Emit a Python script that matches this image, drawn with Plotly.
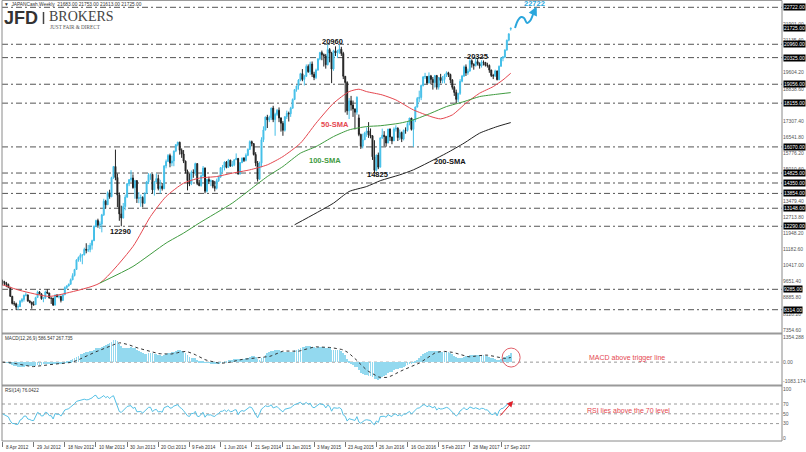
import pandas as pd
import plotly.graph_objects as go

W, H = 806, 452

# ---------------- data (weekly JAPANCash) ----------------
closes = [
    9637, 9561, 9520, 9380, 8953, 8611, 8593, 8440, 8459, 8721,
    8798, 9006, 9020, 8724, 8669, 8566, 8555, 8891, 9162, 9070,
    8839, 8871, 9159, 9110, 8870, 8863, 8534, 9002, 8933, 8946,
    8757, 9024, 9366, 9446, 9527, 9737, 9940, 10230, 10688, 10801,
    10913, 10926, 11191, 11153, 11173, 11385, 11606, 12283, 12560, 12338,
    12397, 12833, 13485, 13316, 13884, 13694, 14607, 15138, 14612, 13774,
    12877, 12686, 13230, 13677, 14309, 14506, 14589, 14129, 14466, 13615,
    13650, 13660, 13389, 13860, 14404, 14742, 14760, 14024, 14404, 14561,
    14088, 14201, 14086, 15165, 15381, 15661, 15299, 15403, 15870, 16178,
    16291, 15912, 15734, 15391, 14914, 14462, 14313, 14865, 14841, 15274,
    14327, 14224, 14696, 15063, 13960, 14516, 14429, 14458, 14199, 14097,
    14462, 14632, 15077, 15097, 15349, 15095, 15437, 15164, 15215, 15457,
    15523, 14778, 15318, 15539, 15425, 15669, 15948, 16321, 16229, 15708,
    15300, 14532, 15291, 16413, 16880, 17490, 17357, 17460, 17920, 17371,
    17621, 17818, 17450, 17197, 16864, 17511, 17674, 17648, 17913, 18332,
    18797, 18971, 19254, 19560, 19286, 19435, 19907, 19653, 20020, 19531,
    19379, 19732, 20264, 20563, 20460, 20407, 19990, 20706, 20539, 19780,
    20650, 20544, 20585, 20724, 20520, 19435, 19136, 17792, 18264, 18070,
    17880, 17725, 18438, 16666, 16106, 16412, 16736, 16834, 16642, 16601,
    15599, 14952, 15682, 15106, 16497, 16627, 16569, 16254, 16919, 16545,
    16360, 16925, 16965, 16519, 16754, 16449, 16860, 16856, 17184, 17446,
    16905, 17374, 17968, 18381, 18426, 18996, 19401, 19427, 19114, 19454,
    19287, 19137, 19467, 18918, 19378, 19234, 19283, 19469, 19604, 19521,
    19262, 18909, 18664, 18335, 18620, 19196, 19445, 19883, 19590, 19686,
    20177, 20013, 19943, 20132, 20033, 19929, 20118, 20099, 19960, 19952,
    19730, 19470, 19453, 19691, 19275, 19909, 20296, 20356, 20690, 21155,
    21457, 21725,
]
highs = [
    9745, 9690, 9640, 9560, 9400, 8970, 8720, 8650, 8570, 8780,
    8870, 9030, 9140, 9030, 8780, 8700, 8720, 8930, 9220, 9200,
    9090, 8900, 9220, 9290, 9120, 8880, 8880, 9050, 9060, 9050,
    8980, 9060, 9420, 9480, 9560, 9800, 10050, 10260, 10720, 10850,
    11000, 10950, 11270, 11480, 11400, 11500, 11650, 12330, 12600, 12650,
    12520, 12880, 13600, 13550, 13950, 14030, 14650, 15160, 15942, 14800,
    13900, 13270, 13400, 13800, 14350, 14540, 14960, 14760, 14500, 14480,
    13920, 13800, 13720, 13900, 14450, 14820, 14800, 14780, 14450, 14800,
    14750, 14500, 14350, 15200, 15470, 15730, 15750, 15650, 15900, 16200,
    16320, 16320, 16000, 15920, 15420, 14990, 14800, 14950, 15000, 15320,
    15300, 14500, 14760, 15160, 15090, 14550, 14650, 14520, 14480, 14450,
    14560, 14690, 15110, 15210, 15380, 15400, 15500, 15460, 15400, 15480,
    15760, 15540, 15350, 15560, 15580, 15760, 16000, 16380, 16370, 16240,
    15820, 15400, 15370, 16530, 17050, 17520, 17600, 17560, 17940, 18030,
    17700, 17880, 17950, 17480, 17300, 17530, 17800, 17750, 17980, 18380,
    18830, 18990, 19300, 19600, 19780, 19500, 20000, 20000, 20130, 20140,
    19650, 19800, 20300, 20600, 20660, 20520, 20500, 20960, 20780, 20600,
    20700, 20860, 20700, 20946, 20840, 20600, 19440, 19200, 18400, 18500,
    18280, 17900, 18480, 17613, 16700, 16700, 16790, 17000, 17250, 16950,
    16620, 16389, 15700, 15800, 16530, 16940, 16820, 16600, 16930, 16950,
    16550, 17000, 17100, 17000, 16900, 16800, 16900, 17000, 17250, 17450,
    17450, 17400, 18000, 18450, 18750, 19040, 19450, 19600, 19450, 19620,
    19500, 19400, 19500, 19500, 19400, 19550, 19450, 19550, 19670, 19650,
    19560, 19300, 18980, 18800, 18650, 19300, 19500, 19950, 20000, 19800,
    20250, 20240, 20050, 20325, 20250, 20100, 20200, 20190, 20100, 20080,
    20000, 19750, 19550, 19750, 19700, 19950, 20350, 20400, 20720, 21180,
    21480, 21753,
]
lows = [
    9470, 9480, 9390, 9340, 8920, 8560, 8500, 8300, 8300, 8450,
    8650, 8700, 8950, 8700, 8620, 8360, 8500, 8540, 8880, 9050,
    8790, 8670, 8820, 9060, 8840, 8590, 8490, 8520, 8900, 8850,
    8660, 8740, 9010, 9300, 9420, 9500, 9720, 9900, 10220, 10600,
    10600, 10480, 10900, 11000, 11060, 11050, 11180, 11580, 12240, 12220,
    12160, 12000, 12780, 13130, 13300, 13600, 13680, 14550, 14480, 13200,
    12550, 12290, 12660, 13050, 13650, 14200, 14400, 14080, 13600, 13400,
    13390, 13220, 13190, 13350, 13850, 14300, 14500, 13850, 13750, 14400,
    14000, 13850, 13990, 14050, 15050, 15350, 15100, 15150, 15150, 15820,
    16100, 15700, 15550, 15300, 14800, 14000, 14200, 14250, 14600, 14700,
    14250, 14200, 14180, 14650, 13860, 13900, 14300, 14200, 14100, 13950,
    14040, 14400, 14600, 14850, 14950, 15050, 15090, 15120, 15120, 15150,
    15450, 14750, 14760, 15300, 15350, 15380, 15630, 15940, 16100, 15660,
    15150, 14420, 14500, 15100, 16300, 16850, 16970, 17250, 17350, 17250,
    16600, 17550, 17250, 16800, 16600, 16800, 17400, 17280, 17500, 17900,
    18300, 18700, 18800, 19200, 19200, 19000, 19400, 19600, 19500, 19400,
    19250, 19300, 19700, 20200, 20200, 19900, 19800, 19950, 20100, 19110,
    19700, 20400, 20300, 20500, 20400, 19300, 17714, 17600, 17400, 17800,
    17500, 16901, 17600, 16580, 15975, 16000, 16400, 16550, 16500, 16480,
    15450, 14825, 14900, 15010, 15100, 16450, 16100, 16080, 16250, 16350,
    16200, 16350, 16800, 16350, 16400, 16300, 16380, 16700, 16800, 17100,
    16850, 16070, 17250, 17950, 18200, 18300, 18950, 19300, 19050, 19100,
    19050, 18800, 18900, 18800, 18800, 19100, 19100, 19100, 19400, 19400,
    19100, 18800, 18500, 18160, 18200, 18550, 19150, 19400, 19450, 19500,
    19650, 19850, 19750, 19900, 19950, 19800, 19850, 19950, 19900, 19850,
    19600, 19400, 19300, 19400, 19240, 19250, 19900, 20150, 20300, 20650,
    21100, 21613,
]
first_open = 9688
session_opens = {183: 17450, 261: 21683}   # bars whose open differs from prior close

# moving averages (bar index, value)
sma50_idx = [0, 9, 24, 33, 50, 67, 76, 84, 93, 101, 110, 118, 127, 136, 144, 153, 161, 170,
             178, 183, 187, 195, 202, 211, 220, 225, 231, 238, 245, 252, 257, 261]
sma50_val = [9503, 9232, 8947, 9108, 9584, 11327, 12755, 13707, 14344, 14582, 14659, 14820,
             14977, 15216, 15610, 16248, 17200, 18152, 18705, 18819, 18705, 18547, 18309,
             17834, 17515, 17405, 17595, 18152, 18628, 18943, 19262, 19580]
sma100_idx = [50, 67, 84, 93, 101, 118, 127, 136, 144, 153, 161, 170, 178, 187, 194, 204,
              211, 220, 228, 237, 245, 254, 261]
sma100_val = [9584, 10374, 11488, 11964, 12440, 13392, 14025, 14659, 15135, 15772, 16087,
              16563, 16882, 17039, 17080, 17200, 17357, 17677, 17991, 18229, 18467, 18581, 18657]
sma200_idx = [150, 161, 170, 178, 187, 194, 204, 211, 228, 237, 245, 254, 261]
sma200_val = [12360, 12916, 13392, 13945, 14183, 14460, 14740, 14977, 15772, 16248, 16724,
              17039, 17229]

# support / resistance levels (black tags) and current price tag
levels = [22722, 20960, 20325, 19056, 18155, 16070, 14825, 14350, 13854, 13148, 12290, 9285, 8314]
current_price = 21725

# axis tick labels (those hidden behind the tags in the reference are left out)
price_ticks = [7354.60, 8120.20, 8885.80, 9651.40, 10417.00, 11182.60, 11948.20, 12713.80,
               13479.40, 15010.60, 15776.20, 16541.80, 17307.40,
               18838.60, 19604.20, 21135.40, 21901.00]
macd_ticks = [1354.288, 0.0, -1083.174]
macd_tick_text = ["1354.288", "0.00", "-1083.174"]
rsi_ticks = [100, 70, 50, 30, 0]
date_idx = [0, 16, 32, 48, 64, 80, 96, 112, 128, 144, 160, 176, 192, 208, 224, 240, 256]
date_text = ["8 Apr 2012", "29 Jul 2012", "18 Nov 2012", "10 Mar 2013", "30 Jun 2013",
             "20 Oct 2013", "9 Feb 2014", "1 Jun 2014", "21 Sep 2014", "11 Jan 2015",
             "3 May 2015", "23 Aug 2015", "26 Jun 2016", "16 Oct 2016", "5 Feb 2017",
             "28 May 2017", "17 Sep 2017"]

# projection path (bar index, price) for the blue wavy arrow
proj_idx = [263.2, 264.8, 266.3, 267.8, 269.4, 270.9, 272.5]
proj_val = [21737, 22117, 22260, 22213, 21975, 22070, 22403]

# ---------------- derived series ----------------
n = len(closes)
idx = list(range(n))
opens = [first_open] + closes[:-1]
for k, v in session_opens.items():
    opens[k] = v

c = pd.Series(closes, dtype=float)
macd = c.ewm(span=12, adjust=False).mean() - c.ewm(span=26, adjust=False).mean()
signal = macd.rolling(9, min_periods=1).mean()

# RSI(14), Wilder smoothing, started from a neutral average move
diffs = [closes[i] - closes[i - 1] for i in range(1, n)]
seed = sum(abs(v) for v in diffs[:14]) / 14 / 2
ag, al = seed, seed
rsi = [50.0]
for dv in diffs:
    ag = (ag * 13 + max(dv, 0)) / 14
    al = (al * 13 + max(-dv, 0)) / 14
    rsi.append(100 - 100 / (1 + ag / al) if al > 0 else 100)

# ---------------- geometry helpers ----------------
def px(x):
    return x / W

def py(y):
    return 1 - y / H

XL, XR = px(2), px(782)
XRANGE = [-0.26, 400.3]
FONT = "Liberation Sans, Arial, sans-serif"
RED = "#e5474f"
GREEN = "#3f9b3f"
BLUE = "#2aa6dc"

fig = go.Figure()

fig.add_trace(go.Candlestick(
    x=idx, open=opens, high=highs, low=lows, close=closes,
    increasing=dict(line=dict(color="#45bfe8", width=1), fillcolor="#45bfe8"),
    decreasing=dict(line=dict(color="#222222", width=1), fillcolor="#222222"),
    whiskerwidth=0, xaxis="x", yaxis="y", hoverinfo="skip"))

for xi, yv, col in [(sma50_idx, sma50_val, RED), (sma100_idx, sma100_val, GREEN),
                    (sma200_idx, sma200_val, "#222222")]:
    fig.add_trace(go.Scatter(x=xi, y=yv, mode="lines",
                             line=dict(color=col, width=1, shape="spline", smoothing=0.6),
                             xaxis="x", yaxis="y", hoverinfo="skip"))

fig.add_trace(go.Scatter(x=proj_idx, y=proj_val, mode="lines",
                         line=dict(color=BLUE, width=2, shape="spline"),
                         xaxis="x", yaxis="y", hoverinfo="skip"))

fig.add_trace(go.Bar(x=idx, y=macd, width=0.4, marker=dict(color="#93d9ef", line=dict(width=0)),
                     xaxis="x2", yaxis="y2", hoverinfo="skip"))
fig.add_trace(go.Scatter(x=idx, y=signal, mode="lines",
                         line=dict(color="#333333", width=1, dash="dot"),
                         xaxis="x2", yaxis="y2", hoverinfo="skip"))
fig.add_trace(go.Scatter(x=idx, y=rsi, mode="lines", line=dict(color="#55c1e6", width=1),
                         xaxis="x3", yaxis="y3", hoverinfo="skip"))

shapes = []
for lv in levels:
    shapes.append(dict(type="line", xref="paper", x0=XL, x1=XR, yref="y", y0=lv, y1=lv,
                       line=dict(color="#555555", width=1, dash="6px,3px,2px,3px"), layer="below"))
shapes.append(dict(type="line", xref="paper", x0=XL, x1=XR, yref="y2", y0=0, y1=0,
                   line=dict(color="#999999", width=1, dash="dot"), layer="below"))
for lv in [70, 50, 30]:
    shapes.append(dict(type="line", xref="paper", x0=XL, x1=XR, yref="y3", y0=lv, y1=lv,
                       line=dict(color="#9a9a9a", width=1, dash="dot"), layer="below"))
# frames
shapes += [
    dict(type="line", xref="paper", yref="paper", x0=XL, x1=XR, y0=py(0.5), y1=py(0.5),
         line=dict(color="#9a9a9a", width=1)),
    dict(type="line", xref="paper", yref="paper", x0=XL, x1=XR, y0=py(333.5), y1=py(333.5),
         line=dict(color="#9a9a9a", width=2)),
    dict(type="line", xref="paper", yref="paper", x0=XL, x1=XR, y0=py(385.5), y1=py(385.5),
         line=dict(color="#9a9a9a", width=2)),
    dict(type="line", xref="paper", yref="paper", x0=XL, x1=XR, y0=py(441), y1=py(441),
         line=dict(color="#8a8a8a", width=1)),
    dict(type="line", xref="paper", yref="paper", x0=XL, x1=XL, y0=py(441), y1=py(0.5),
         line=dict(color="#8a8a8a", width=1)),
    dict(type="line", xref="paper", yref="paper", x0=XR, x1=XR, y0=py(441), y1=py(0.5),
         line=dict(color="#8a8a8a", width=1)),
    dict(type="line", xref="paper", yref="paper", x0=px(43.5), x1=px(43.5), y0=py(12), y1=py(24),
         line=dict(color="#444444", width=1.5)),
    dict(type="circle", xref="x2", yref="y2", xsizemode="pixel", ysizemode="pixel",
         xanchor=261.2, yanchor=255, x0=-9, x1=9, y0=-9.5, y1=9.5,
         line=dict(color="#e0606a", width=1)),
]

ann = []
# black price tags
for lv in levels + [current_price]:
    ann.append(dict(xref="paper", x=px(783), xanchor="left", yref="y", y=lv, yanchor="middle",
                    text=f"{lv:.2f}", showarrow=False, bgcolor="#000000", borderpad=0,
                    font=dict(family=FONT, size=5, color="#ffffff")))
# date labels under the RSI panel
for di, dt in zip(date_idx, date_text):
    ann.append(dict(xref="x3", yref="paper", x=di, y=py(447), xanchor="left", yanchor="middle",
                    xshift=1, text=dt, showarrow=False,
                    font=dict(family=FONT, size=4.6, color="#333333")))
# chart labels
for txt, xi, yv, col in [("20960", 169.5, 21104, "#111111"), ("20325", 243.7, 20356, "#111111"),
                         ("12290", 60.4, 12050, "#111111"), ("14825", 192.6, 14740, "#111111"),
                         ("50-SMA", 170.8, 17143, RED), ("100-SMA", 165.6, 15406, GREEN),
                         ("200-SMA", 229.8, 15358, "#111111"), ("22722", 273.2, 22903, BLUE)]:
    ann.append(dict(xref="x", yref="y", x=xi, y=yv, xanchor="center", yanchor="middle",
                    text=f"<b>{txt}</b>", showarrow=False,
                    font=dict(family=FONT, size=7.5, color=col)))
# projection arrow head
ann.append(dict(xref="x", yref="y", x=274.3, y=22760, axref="x", ayref="y", ax=272.5, ay=22403,
                text="", showarrow=True, arrowhead=2, arrowsize=0.9, arrowwidth=2, arrowcolor=BLUE))
# RSI arrow
ann.append(dict(xref="x3", yref="y3", x=262.2, y=76, axref="x3", ayref="y3", ax=255.0, ay=43.5,
                text="", showarrow=True, arrowhead=2, arrowsize=1.2, arrowwidth=1, arrowcolor="#e0202a"))
# panel texts
ann += [
    dict(xref="paper", yref="paper", x=px(626.5), y=py(357.8), xanchor="center", yanchor="middle",
         text="MACD above trigger line",
         showarrow=False, font=dict(family=FONT, size=7, color=RED)),
    dict(xref="paper", yref="paper", x=px(628), y=py(410), xanchor="center", yanchor="middle",
         text="RSI lies above the 70 level",
         showarrow=False, font=dict(family=FONT, size=7, color=RED)),
    dict(xref="paper", yref="paper", x=px(3), y=py(338.5), xanchor="left", yanchor="middle",
         text="MACD(12,26,9) 586.547 267.735",
         showarrow=False, font=dict(family=FONT, size=4.6, color="#333333")),
    dict(xref="paper", yref="paper", x=px(3), y=py(390.5), xanchor="left", yanchor="middle",
         text="RSI(14) 76.0422",
         showarrow=False, font=dict(family=FONT, size=4.6, color="#333333")),
    dict(xref="paper", yref="paper", x=px(2), y=py(4.5), xanchor="left", yanchor="middle",
         text="▼  JAPANCash,Weekly  21683.00 21753.00 21613.00 21725.00",
         showarrow=False, font=dict(family=FONT, size=4.8, color="#333333")),
    dict(xref="paper", yref="paper", x=px(2), y=py(18.5), xanchor="left", yanchor="middle",
         text="<b>JFD</b>", showarrow=False, font=dict(family=FONT, size=18, color="#333333")),
    dict(xref="paper", yref="paper", x=px(47), y=py(16), xanchor="left", yanchor="middle",
         text="BROKERS", showarrow=False,
         font=dict(family="Liberation Serif, serif", size=14, color="#444444")),
    dict(xref="paper", yref="paper", x=px(48), y=py(26.5), xanchor="left", yanchor="middle",
         text="JUST FAIR &amp; DIRECT", showarrow=False,
         font=dict(family="Liberation Serif, serif", size=5.2, color="#555555")),
]

axis_common = dict(showgrid=False, zeroline=False, showline=False, automargin=False, fixedrange=True)
fig.update_layout(
    width=W, height=H, margin=dict(l=0, r=0, t=0, b=0), template="none",
    paper_bgcolor="white", plot_bgcolor="white", showlegend=False, bargap=0,
    xaxis=dict(domain=[XL, XR], range=XRANGE, anchor="y", showticklabels=False, ticks="",
               rangeslider=dict(visible=False), **axis_common),
    xaxis2=dict(domain=[XL, XR], range=XRANGE, anchor="y2", showticklabels=False, ticks="",
                **axis_common),
    xaxis3=dict(domain=[XL, XR], range=XRANGE, anchor="y3", tickmode="array", tickvals=date_idx,
                showticklabels=False, ticks="outside", ticklen=5, tickcolor="#777777",
                **axis_common),
    yaxis=dict(domain=[py(333), py(1)], range=[7204, 23022], anchor="x", side="right",
               tickmode="array", tickvals=price_ticks, ticktext=[f"{v:.2f}" for v in price_ticks],
               ticks="", tickfont=dict(family=FONT, size=5, color="#555555"), **axis_common),
    yaxis2=dict(domain=[py(385), py(335)], range=[-1266, 1504], anchor="x2", side="right",
                tickmode="array", tickvals=macd_ticks, ticktext=macd_tick_text, ticks="",
                tickfont=dict(family=FONT, size=5, color="#555555"), **axis_common),
    yaxis3=dict(domain=[py(441), py(387)], range=[-5.5, 104.7], anchor="x3", side="right",
                tickmode="array", tickvals=rsi_ticks, ticktext=[str(v) for v in rsi_ticks], ticks="",
                tickfont=dict(family=FONT, size=5, color="#555555"), **axis_common),
    shapes=shapes, annotations=ann,
)

fig.write_html("out.html")
